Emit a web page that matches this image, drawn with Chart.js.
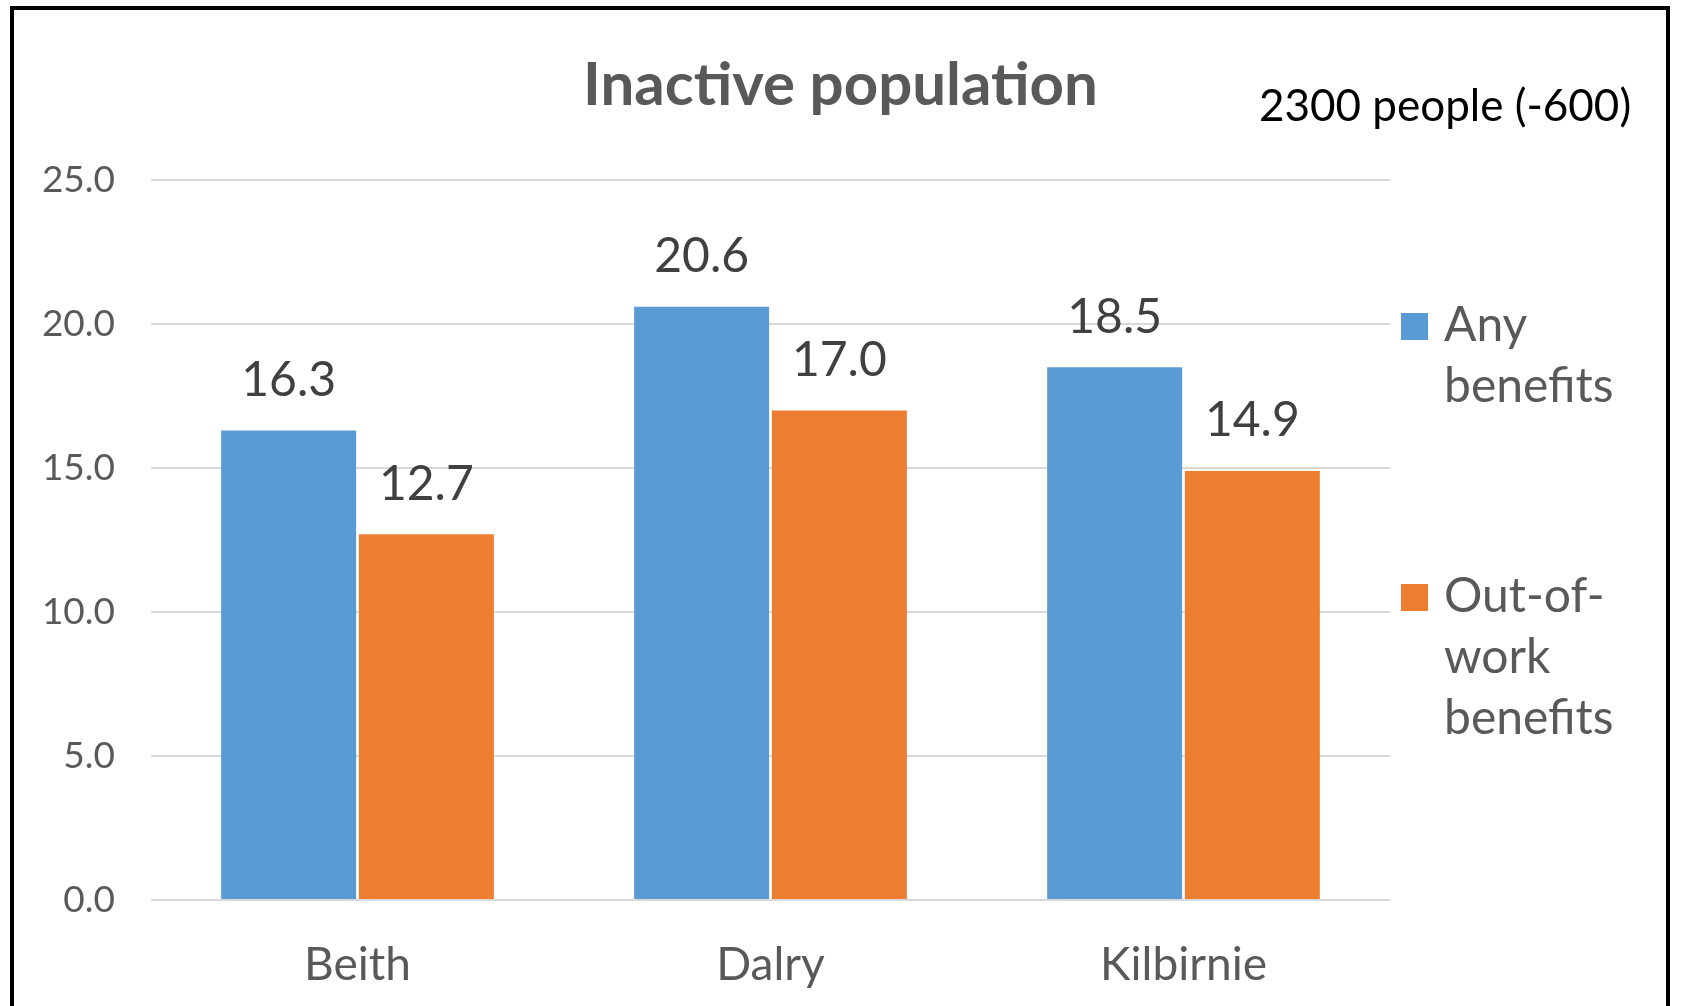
<!DOCTYPE html>
<html>
<head>
<meta charset="utf-8">
<script src="https://cdn.jsdelivr.net/npm/chart.js@4.4.1/dist/chart.umd.min.js"></script>
<style>
  html, body { margin: 0; padding: 0; background: #fff; overflow: hidden; }
  #wrap { position: relative; width: 1681px; height: 1006px; }
  #frame {
    position: absolute; left: 10px; top: 6px; width: 1660px; height: 1100px;
    border: 4px solid #000; box-sizing: border-box; pointer-events: none;
  }
  canvas { position: absolute; left: 0; top: 0; }
</style>
</head>
<body>
<div id="wrap">
  <canvas id="chart" width="1681" height="1006"></canvas>
  <div id="frame"></div>
</div>
<script>
// data
const TOWNS = ['Beith', 'Dalry', 'Kilbirnie'];
const ANY_BENEFITS = [16.3, 20.6, 18.5];
const OUT_OF_WORK = [12.7, 17.0, 14.9];
const SERIES_NAMES = ['Any benefits', 'Out-of-work benefits'];
const LEGEND_LINES = [['Any', 'benefits'], ['Out-of-', 'work', 'benefits']];
const Y_TICKS = [0, 5, 10, 15, 20, 25];
const NOTE_TEXT = '2300 people (-600)';

const COLORS = {
  blue:   '#5B9BD5',
  orange: '#ED7D31',
  text:   '#595959',
  label:  '#404040',
  grid:   '#D9D9D9'
};
const FONT = "Lato, 'Open Sans', sans-serif";

// ── value labels above each bar
const valueLabels = {
  id: 'valueLabels',
  afterDatasetsDraw(chart) {
    const ctx = chart.ctx;
    ctx.save();
    ctx.font = `48px ${FONT}`;
    ctx.fillStyle = COLORS.label;
    ctx.textAlign = 'center';
    ctx.textBaseline = 'middle';
    chart.data.datasets.forEach((ds, i) => {
      chart.getDatasetMeta(i).data.forEach((bar, j) => {
        ctx.fillText(ds.data[j].toFixed(1), bar.x, bar.y - 50);
      });
    });
    ctx.restore();
  }
};

// ── wrapped legend on the right + note text
const sideLegend = {
  id: 'sideLegend',
  afterDraw(chart) {
    const ctx = chart.ctx;
    const area = chart.chartArea;
    const x0 = area.right + 11;
    const tops = [area.top + 133, area.top + 404];
    ctx.save();
    chart.data.datasets.forEach((ds, i) => {
      ctx.fillStyle = ds.backgroundColor;
      ctx.fillRect(x0, tops[i], 27, 27);
      ctx.font = `48px ${FONT}`;
      ctx.fillStyle = COLORS.text;
      ctx.textAlign = 'left';
      ctx.textBaseline = 'middle';
      LEGEND_LINES[i].forEach((line, k) => {
        ctx.fillText(line, x0 + 43, tops[i] + 13 + k * 61);
      });
    });
    ctx.font = `44px ${FONT}`;
    ctx.fillStyle = '#000';
    ctx.textBaseline = 'middle';
    ctx.fillText(NOTE_TEXT, 1259, 107);
    ctx.restore();
  }
};

new Chart(document.getElementById('chart'), {
  type: 'bar',
  data: {
    labels: TOWNS,
    datasets: [
      { label: SERIES_NAMES[0], data: ANY_BENEFITS, backgroundColor: COLORS.blue },
      { label: SERIES_NAMES[1], data: OUT_OF_WORK, backgroundColor: COLORS.orange }
    ]
  },
  options: {
    responsive: false,
    animation: false,
    devicePixelRatio: 1,
    categoryPercentage: 0.667,
    barPercentage: 0.98,
    plugins: {
      legend: { display: false },
      tooltip: { enabled: false },
      title: {
        display: true,
        text: 'Inactive population',
        color: COLORS.text,
        font: { family: FONT, size: 60, weight: 'bold', lineHeight: 1.2 },
        padding: { top: 50, bottom: 58 }
      }
    },
    scales: {
      x: {
        grid: { display: false, drawTicks: false },
        border: { display: false },
        ticks: { color: COLORS.text, font: { family: FONT, size: 46, lineHeight: 1.2 }, padding: 38 },
        afterFit: s => { s.height = 106; }
      },
      y: {
        min: Y_TICKS[0],
        max: Y_TICKS[Y_TICKS.length - 1],
        afterBuildTicks: s => { s.ticks = Y_TICKS.map(v => ({ value: v })); },
        grid: { color: COLORS.grid, lineWidth: 2, drawTicks: false },
        border: { display: false },
        ticks: {
          color: COLORS.text,
          font: { family: FONT, size: 37 },
          padding: 36,
          callback: v => v.toFixed(1)
        },
        afterFit: s => { s.width = 151; }
      },
      // empty right axis, only reserves room for the legend
      side: {
        position: 'right',
        grid: { display: false, drawTicks: false },
        border: { display: false },
        ticks: { display: false },
        afterFit: s => { s.width = 291; }
      }
    }
  },
  plugins: [valueLabels, sideLegend]
});
</script>
</body>
</html>
